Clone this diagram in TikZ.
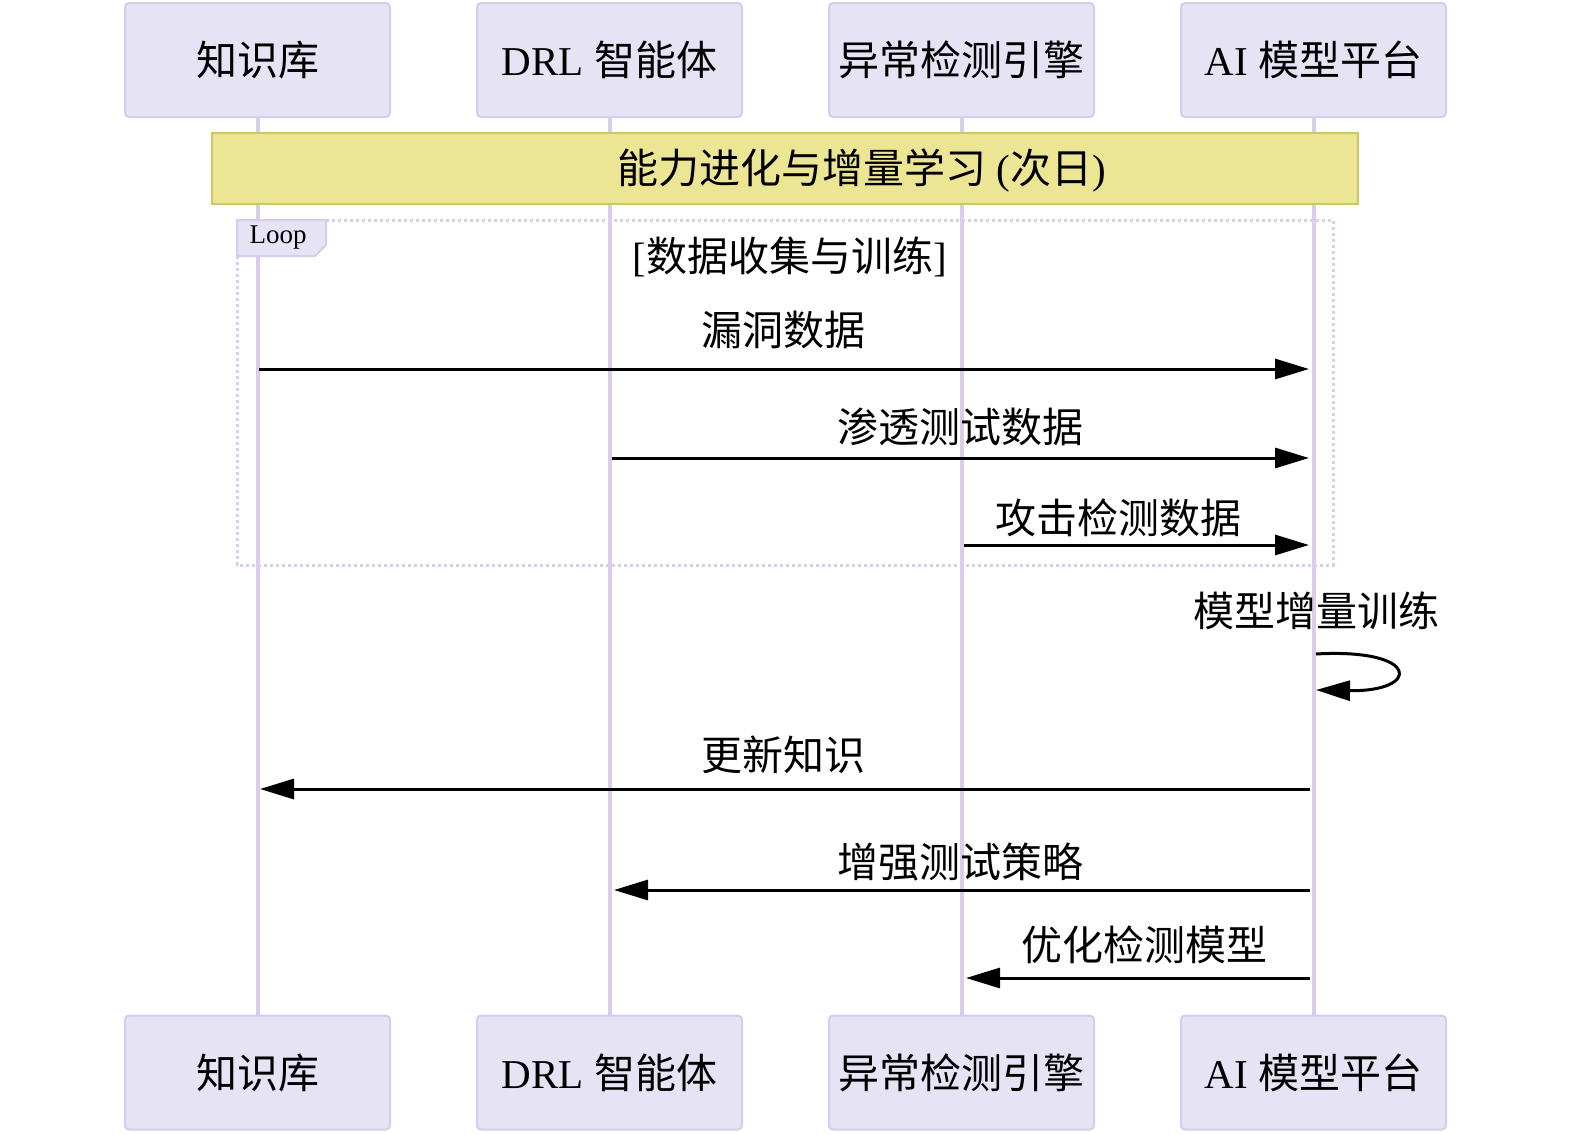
\documentclass[tikz,border=0pt]{standalone}
\usepackage{fontspec}
\setmainfont{Liberation Serif}
\newfontfamily\cjk{Noto Sans CJK SC}
\usetikzlibrary{arrows.meta}
\definecolor{actfill}{HTML}{E6E3F5}
\definecolor{actdraw}{HTML}{D6CDEB}
\definecolor{lifec}{HTML}{D9CDEA}
\definecolor{notefill}{HTML}{ECE594}
\definecolor{notedraw}{HTML}{C8C86A}
\definecolor{loopc}{HTML}{D9D0EA}
\begin{document}
\begin{tikzpicture}[x=0.5pt,y=0.5pt,
 actor/.style={draw=actdraw, fill=actfill, line width=1pt, rounded corners=2pt, minimum width=132.5pt, minimum height=57pt, font=\fontsize{20.5}{24}\selectfont, inner sep=0pt},
 life/.style={draw=lifec, line width=2pt},
 msg/.style={draw=black, line width=1.5pt, -{Triangle[length=17pt,width=10pt]}},
 lbl/.style={font=\fontsize{20.5}{24}\selectfont, inner sep=0pt}]
\useasboundingbox (0,0) rectangle (1575,-1135);
% actors
\node[actor] (kt) at (257.5,-60) {\cjk 知识库};
\node[actor] (dt) at (609.5,-60) {DRL {\cjk 智能体}};
\node[actor] (et) at (961.5,-60) {\cjk 异常检测引擎};
\node[actor] (at) at (1313.5,-60) {AI {\cjk 模型平台}};
\node[actor] (kb) at (257.5,-1072.5) {\cjk 知识库};
\node[actor] (db) at (609.5,-1072.5) {DRL {\cjk 智能体}};
\node[actor] (eb) at (961.5,-1072.5) {\cjk 异常检测引擎};
\node[actor] (ab) at (1313.5,-1072.5) {AI {\cjk 模型平台}};
% lifelines
\draw[life] (kt.south) -- (kb.north);
\draw[life] (dt.south) -- (db.north);
\draw[life] (et.south) -- (eb.north);
\draw[life] (at.south) -- (ab.north);
% note
\node[draw=notedraw, fill=notefill, line width=1pt, minimum width=573pt, minimum height=35.5pt, inner sep=0pt] (note) at (785,-168.5) {};
\node[lbl] (notetext) at (862,-170) {{\cjk 能力进化与增量学习} ({\cjk 次日})};
% loop frame
\draw[loopc, line width=1.5pt, dash pattern=on 1.5pt off 1.5pt] (237,-220) rectangle (1333,-565);
\path[fill=actfill, draw=actdraw, line width=1pt] (237,-220) -- (326,-220) -- (326,-245) -- (315,-256) -- (237,-256) -- cycle;
\node[font=\fontsize{13.5}{15}\selectfont, inner sep=0pt] (looplbl) at (278,-238) {Loop};
\node[lbl] (cond) at (790,-257) {[{\cjk 数据收集与训练}]};
% coordinates on lifelines
\coordinate (k1) at (259,-369);
\coordinate (a1) at (1309,-369);
\coordinate (d2) at (612,-458);
\coordinate (a2) at (1309,-458);
\coordinate (e3) at (964,-545);
\coordinate (a3) at (1309,-545);
\coordinate (s1) at (1316,-654);
\coordinate (s2) at (1316,-690);
\coordinate (a5) at (1310,-789);
\coordinate (k5) at (260,-789);
\coordinate (a6) at (1310,-890);
\coordinate (d6) at (614,-890);
\coordinate (a7) at (1310,-978);
\coordinate (e7) at (966,-978);
% messages
\node[lbl] (m1) at (783,-330) {\cjk 漏洞数据};
\draw[msg] (k1) -- (a1);
\node[lbl] (m2) at (960,-427) {\cjk 渗透测试数据};
\draw[msg] (d2) -- (a2);
\node[lbl] (m3) at (1118,-518) {\cjk 攻击检测数据};
\draw[msg] (e3) -- (a3);
\node[lbl] (m4) at (1316,-611) {\cjk 模型增量训练};
\draw[msg] (s1) .. controls (1421,-648) and (1421,-692) .. (s2);
\node[lbl] (m5) at (783,-755) {\cjk 更新知识};
\draw[msg] (a5) -- (k5);
\node[lbl] (m6) at (960,-862) {\cjk 增强测试策略};
\draw[msg] (a6) -- (d6);
\node[lbl] (m7) at (1144,-945) {\cjk 优化检测模型};
\draw[msg] (a7) -- (e7);
\end{tikzpicture}
\end{document}
